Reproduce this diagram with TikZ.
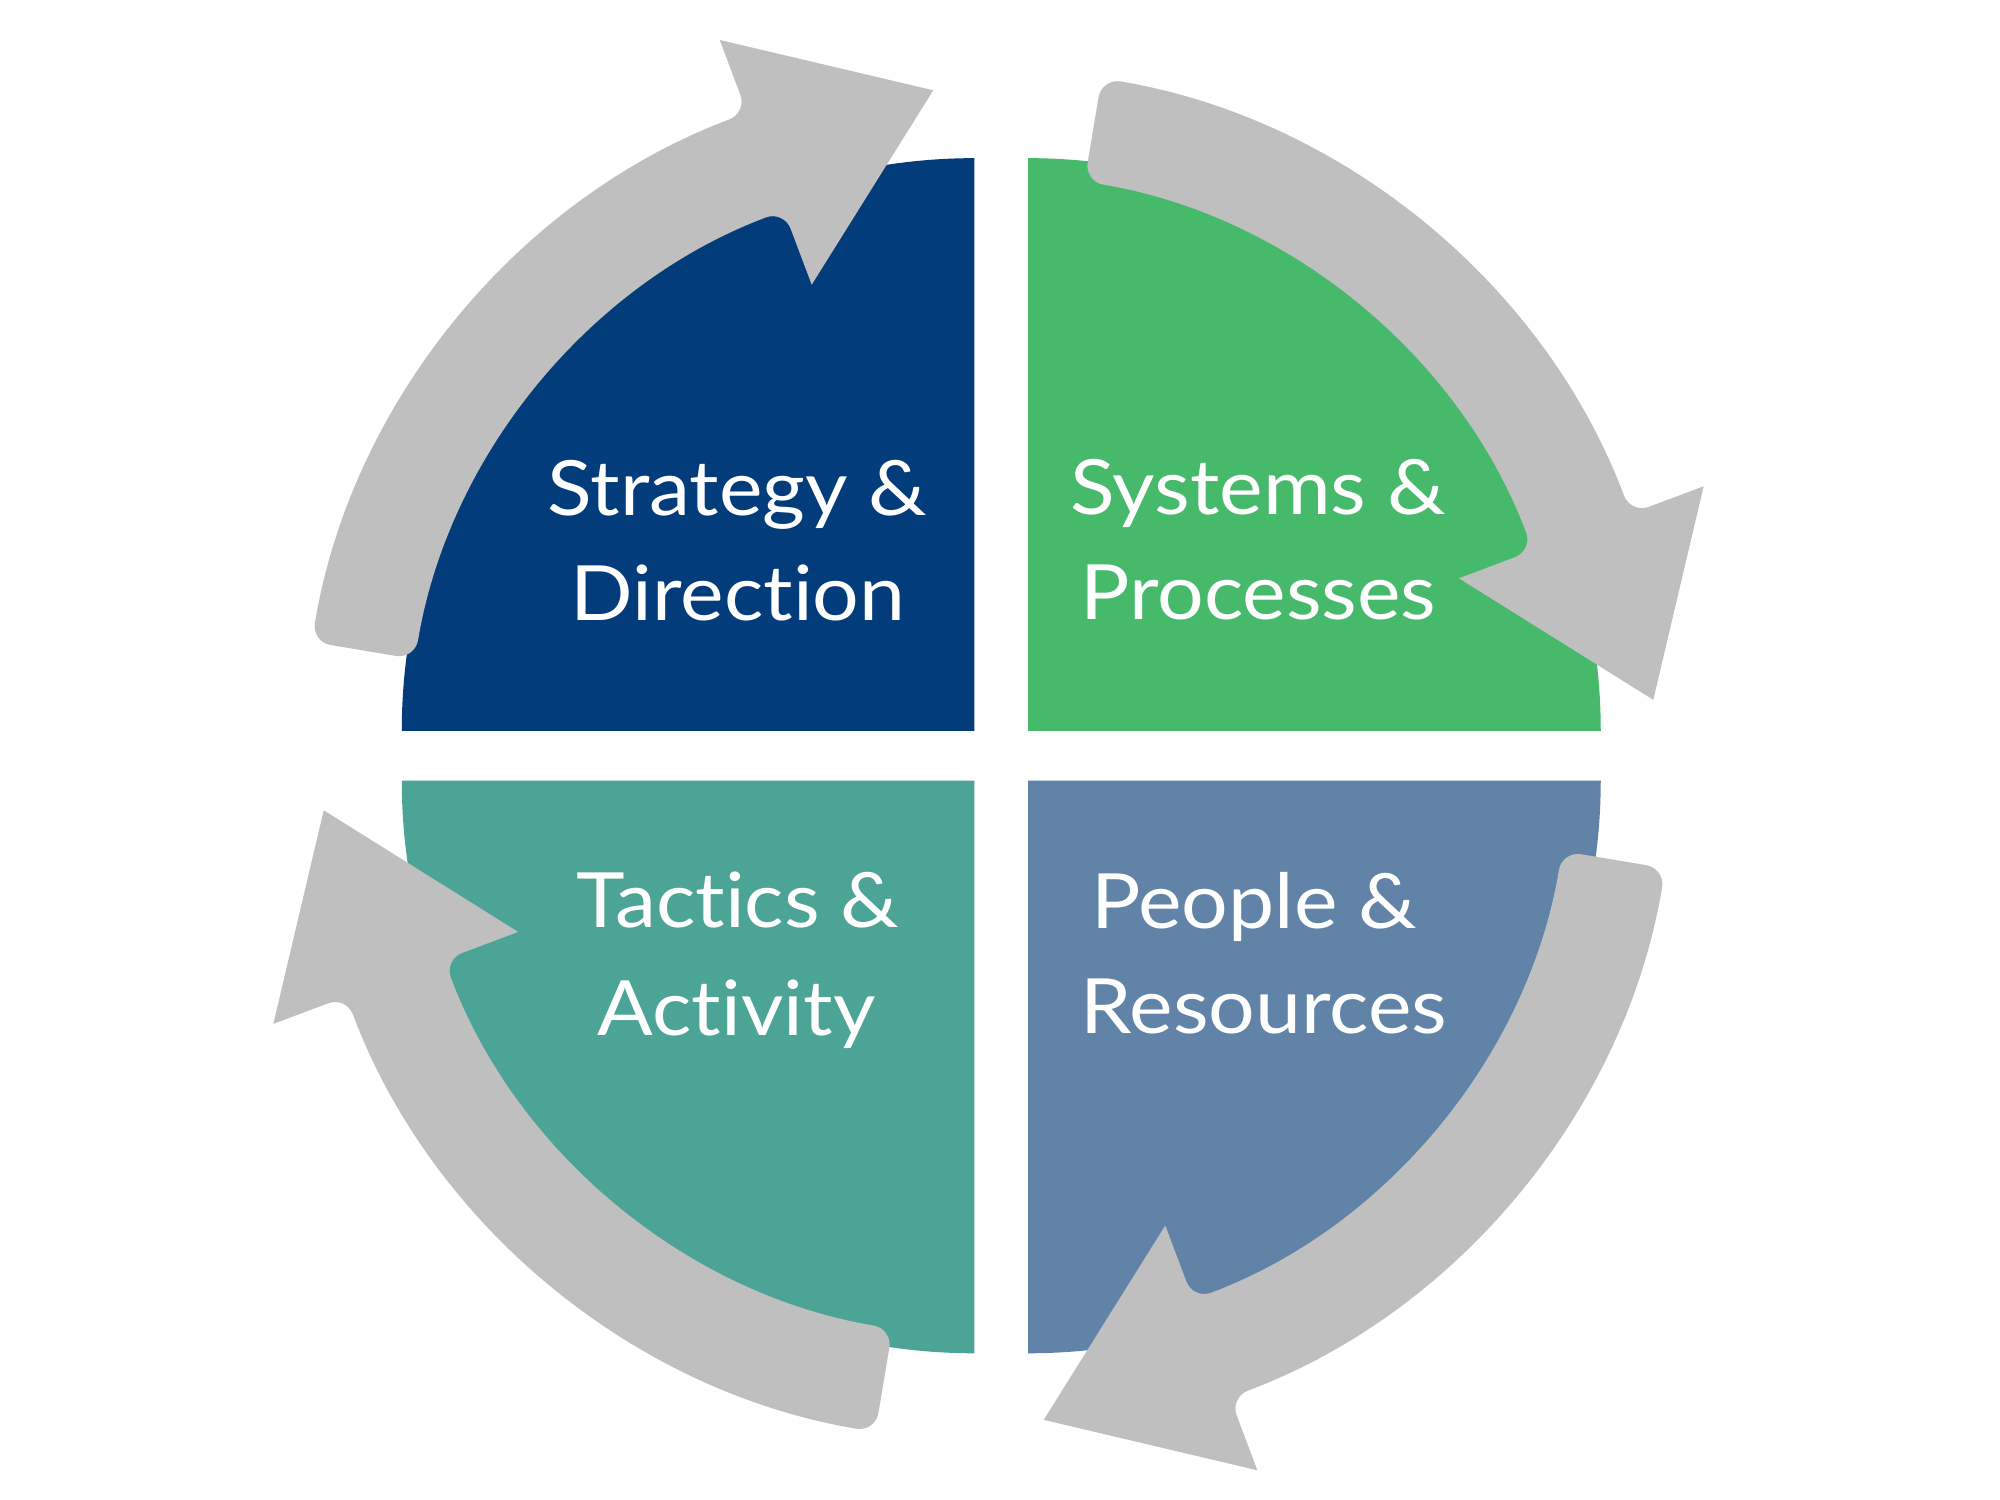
\documentclass[tikz,border=0pt]{standalone}
\usepackage{fontspec}
\setmainfont{Lato}[Ligatures=NoCommon,FakeStretch=1.08]
\definecolor{stratblue}{HTML}{023C7A}
\definecolor{sysgreen}{HTML}{46B96B}
\definecolor{tactteal}{HTML}{4CA496}
\definecolor{peopleblue}{HTML}{6183A8}
\definecolor{cyclegray}{HTML}{BFBFBF}
\begin{document}
\begin{tikzpicture}[x=0.01cm,y=0.01cm,
  arrowgray/.style={fill=cyclegray},
  labeltext/.style={text=white,font=\fontsize{17}{21}\selectfont,inner sep=0pt,anchor=base}]
  \useasboundingbox[fill=white] (-775,-584) rectangle (793,592);
  % Quadrants: quarter disks round the centre gap
  \fill[stratblue] (-11,19) -- (-11,468) arc[start angle=90,end angle=180,radius=449] -- cycle;
  \fill[sysgreen] (31,19) -- (480,19) arc[start angle=0,end angle=90,radius=449] -- cycle;
  \fill[tactteal] (-11,-20) -- (-460,-20) arc[start angle=180,end angle=270,radius=449] -- cycle;
  \fill[peopleblue] (31,-20) -- (31,-469) arc[start angle=270,end angle=360,radius=449] -- cycle;
  % Curved arrows, one per quarter, turned clockwise
  \foreach \turn in {0,-90,-180,-270}{
    \fill[arrowgray,rotate=\turn] (170.5:497) [rounded corners=0.15cm] -- (170.5:538)
      arc[start angle=170.5,end angle=110.6,radius=538] [sharp corners] -- (110.6:599) -- (94.75:523)
      -- (110.6:394) [rounded corners=0.15cm] -- (110.6:456) arc[start angle=110.6,end angle=170.5,radius=456] -- cycle;
  }
  % Labels
  \node[labeltext] (strategy) at (-196.8,188.2) {Strategy \&};
  \node[labeltext] (direction) at (-196.4,105.9) {Direction};
  \node[labeltext] (systems) at (211.4,189) {Systems \&};
  \node[labeltext] (processes) at (211.6,106) {Processes};
  \node[labeltext] (tactics) at (-196.6,-135.2) {Tactics \&};
  \node[labeltext] (activity) at (-197.5,-219.5) {Activity};
  \node[labeltext] (people) at (208.3,-135.8) {People \&};
  \node[labeltext] (resources) at (216.1,-218.1) {Resources};
\end{tikzpicture}
\end{document}
